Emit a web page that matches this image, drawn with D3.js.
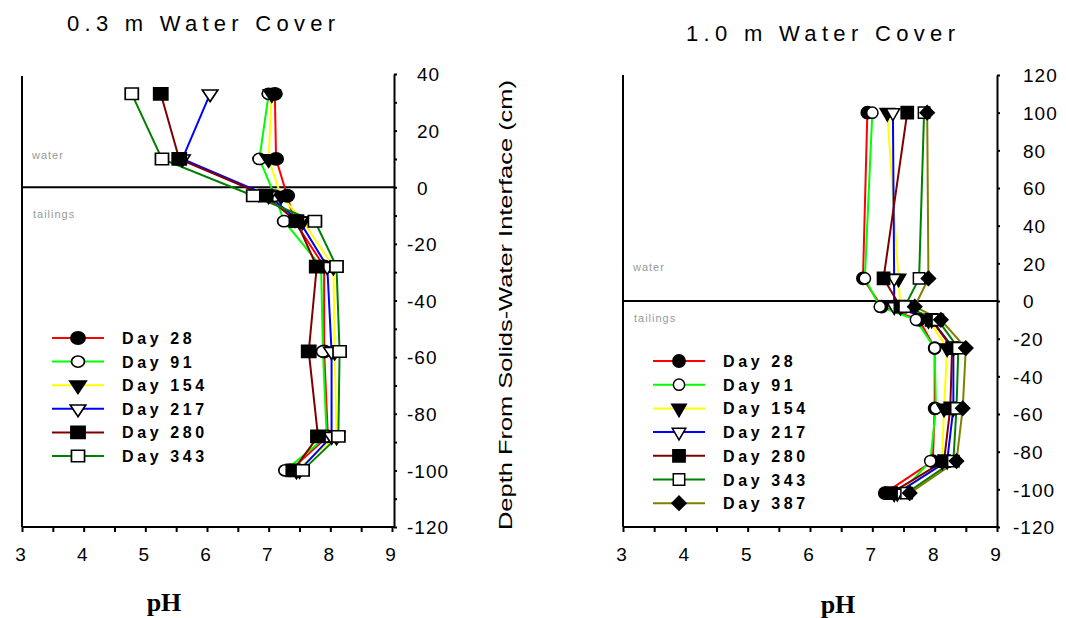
<!DOCTYPE html>
<html>
<head>
<meta charset="utf-8">
<script src="https://cdn.jsdelivr.net/npm/d3@7"></script>
<style>
  body { margin: 0; background: #fff; }
</style>
</head>
<body>
<script>
// ---------------- DATA ----------------
// Left panel: 0.3 m water cover
const depthsLeft = [33, 10, -3, -12, -28, -58, -88, -100];
const left_day28  = [7.10, 7.12, 7.30, 7.42, 7.90, 7.90, 7.96, 7.35];
const left_day91  = [7.00, 6.85, 7.10, 7.25, 7.85, 7.88, 7.94, 7.27];
const left_day154 = [7.05, 7.00, 7.20, 7.55, 8.05, 8.07, 8.10, 7.45];
const left_day217 = [6.05, 5.60, 7.00, 7.50, 7.95, 8.02, 8.02, 7.50];
const left_day280 = [5.25, 5.55, 6.95, 7.45, 7.78, 7.65, 7.80, 7.40];
const left_day343 = [4.78, 5.27, 6.75, 7.75, 8.10, 8.15, 8.13, 7.55];

// Right panel: 1.0 m water cover
const depthsRight = [100, 12, -3, -10, -25, -57, -85, -102];
const right_day28  = [6.92, 6.85, 7.15, 7.75, 8.00, 8.00, 7.97, 7.20];
const right_day91  = [7.00, 6.88, 7.12, 7.70, 8.00, 8.02, 7.93, 7.45];
const right_day154 = [7.24, 7.42, 7.45, 7.90, 8.20, 8.15, 8.12, 7.35];
const right_day217 = [7.33, 7.35, 7.35, 7.95, 8.30, 8.30, 8.20, 7.40];
const right_day280 = [7.56, 7.18, 7.45, 7.95, 8.28, 8.25, 8.15, 7.30];
const right_day343 = [7.83, 7.75, 7.52, 8.05, 8.38, 8.35, 8.30, 7.55];
const right_day387 = [7.88, 7.90, 7.68, 8.10, 8.50, 8.45, 8.35, 7.60];

const seriesNames = ["Day 28", "Day 91", "Day 154", "Day 217", "Day 280", "Day 343", "Day 387"];
const pHTicks = [3, 4, 5, 6, 7, 8, 9];
const depthTicksLeft = [40, 20, 0, -20, -40, -60, -80, -100, -120];
const depthTicksRight = [120, 100, 80, 60, 40, 20, 0, -20, -40, -60, -80, -100, -120];

// ---------------- STYLES ----------------
const SANS = "'Liberation Sans', Arial, sans-serif";
const styleOf = {
  "Day 28":  { color: "#ff0000", sym: d3.symbolCircle,   fill: "#000", rot: 0,   size: 120 },
  "Day 91":  { color: "#00ff00", sym: d3.symbolCircle,   fill: "#fff", rot: 0,   size: 100 },
  "Day 154": { color: "#ffff00", sym: d3.symbolTriangle, fill: "#000", rot: 180, size: 90 },
  "Day 217": { color: "#0000ff", sym: d3.symbolTriangle, fill: "#fff", rot: 180, size: 80 },
  "Day 280": { color: "#800000", sym: d3.symbolSquare,   fill: "#000", rot: 0,   size: 150 },
  "Day 343": { color: "#008000", sym: d3.symbolSquare,   fill: "#fff", rot: 0,   size: 130 },
  "Day 387": { color: "#808000", sym: d3.symbolSquare,   fill: "#000", rot: 45,  size: 100 }
};

const W = 1066, H = 618;
const svg = d3.select("body").append("svg")
  .attr("width", W).attr("height", H)
  .style("background", "#fff")
  .style("font-family", SANS);

function drawPanel(cfg) {
  const g = svg.append("g");
  const x = d3.scaleLinear().domain([3, 9]).range([cfg.x0, cfg.x1]);
  const y = d3.scaleLinear().domain(cfg.yDomain).range([cfg.yBot, cfg.yTop]);

  // frame: left line
  g.append("line").attr("x1", cfg.x0).attr("x2", cfg.x0)
    .attr("y1", cfg.frameTop).attr("y2", cfg.yBot)
    .attr("stroke", "#000").attr("stroke-width", 2);

  // x axis
  const xAxis = d3.axisBottom(x)
    .tickValues(d3.range(3, 9.01, 0.5))
    .tickSize(5).tickSizeOuter(0)
    .tickFormat(d => Number.isInteger(d) && pHTicks.includes(d) ? d : "");
  const xg = g.append("g").attr("transform", `translate(0,${cfg.yBot})`).call(xAxis);
  xg.select(".domain").attr("stroke-width", 2).attr("d", `M${cfg.x0},0H${cfg.x1 + 2}`);
  xg.selectAll(".tick line").attr("stroke-width", 2);
  xg.selectAll(".tick text")
    .attr("y", 21).attr("dy", "0.71em").attr("dx", -2)
    .style("font-size", "19px").style("font-family", SANS);

  // y axis on right
  const yAxis = d3.axisRight(y)
    .tickValues(cfg.yTickVals)
    .tickSize(3).tickSizeOuter(0)
    .tickFormat(d => cfg.yLabels.includes(d) ? d : "");
  const yg = g.append("g").attr("transform", `translate(${cfg.axisX},0)`).call(yAxis);
  yg.select(".domain").attr("stroke-width", 2);
  yg.selectAll(".tick line").attr("stroke-width", 2);
  yg.selectAll(".tick text")
    .attr("letter-spacing", 1)
    .attr("x", d => d < 0 ? cfg.labelOff - 10 : cfg.labelOff)
    .attr("dy", "0.36em")
    .style("font-size", "19px").style("font-family", SANS);

  // zero line
  g.append("line").attr("x1", cfg.x0).attr("x2", cfg.axisX)
    .attr("y1", y(0)).attr("y2", y(0))
    .attr("stroke", "#000").attr("stroke-width", 2);

  // water / tailings labels
  g.append("text").attr("x", cfg.x0 + 10).attr("y", y(0) - cfg.waterDy)
    .attr("font-size", 11).attr("letter-spacing", 1).attr("fill", "#9a9a9a").text("water");
  g.append("text").attr("x", cfg.x0 + 11).attr("y", y(0) + cfg.tailDy)
    .attr("font-size", 11).attr("letter-spacing", 1).attr("fill", "#9a9a9a").text("tailings");

  const line = d3.line().x(d => x(d[1])).y(d => y(d[0]));
  const sx = cfg.markerSX;

  cfg.series.forEach(s => {
    const st = styleOf[s.name];
    const pts = cfg.depths.map((dep, k) => [dep, s.values[k]]);
    g.append("path").attr("d", line(pts))
      .attr("fill", "none").attr("stroke", st.color).attr("stroke-width", 2);
  });
  cfg.series.forEach(s => {
    const st = styleOf[s.name];
    const pts = cfg.depths.map((dep, k) => [dep, s.values[k]]);
    g.selectAll(null).data(pts).enter().append("path")
      .attr("d", d3.symbol().type(st.sym).size(st.size))
      .attr("transform", d => `translate(${x(d[1])},${y(d[0])}) scale(${sx},1) rotate(${st.rot})`)
      .attr("fill", st.fill).attr("stroke", "#000").attr("stroke-width", 1.5);
  });

  // legend
  cfg.series.forEach((s, i) => {
    const st = styleOf[s.name];
    const ly = cfg.legY + i * cfg.legStep;
    g.append("line").attr("x1", cfg.legX).attr("x2", cfg.legX + 52)
      .attr("y1", ly).attr("y2", ly).attr("stroke", st.color).attr("stroke-width", 2);
    g.append("path").attr("d", d3.symbol().type(st.sym).size(st.size))
      .attr("transform", `translate(${cfg.legX + 26},${ly}) scale(${sx},1) rotate(${st.rot})`)
      .attr("fill", st.fill).attr("stroke", "#000").attr("stroke-width", 1.5);
    g.append("text").attr("x", cfg.legX + 70).attr("y", ly + 6)
      .attr("letter-spacing", 3.6)
      .style("font-size", "16px").style("font-weight", "bold")
      .text(s.name);
  });

  // title
  g.append("text").attr("x", cfg.titleX).attr("y", cfg.titleY)
    .attr("textLength", cfg.titleLen).attr("lengthAdjust", "spacing")
    .style("font-size", "22px")
    .text(cfg.title);

  // x label
  g.append("text").attr("x", cfg.pHX).attr("y", cfg.pHY).attr("text-anchor", "middle")
    .style("font-family", "'Liberation Serif', 'Times New Roman', serif")
    .style("font-weight", "bold").style("font-size", "26px").text("pH");
}

drawPanel({
  x0: 22, x1: 392, axisX: 394, yTop: 74, yBot: 527, frameTop: 76,
  yDomain: [-120, 40],
  yTickVals: d3.range(-120, 40.1, 10), yLabels: depthTicksLeft, labelOff: 23,
  depths: depthsLeft,
  series: [
    { name: "Day 28", values: left_day28 },
    { name: "Day 91", values: left_day91 },
    { name: "Day 154", values: left_day154 },
    { name: "Day 217", values: left_day217 },
    { name: "Day 280", values: left_day280 },
    { name: "Day 343", values: left_day343 }
  ],
  markerSX: 1.15,
  waterDy: 28, tailDy: 31,
  legX: 52, legY: 338, legStep: 23.6,
  title: "0.3 m Water Cover", titleX: 67, titleY: 31, titleLen: 268,
  pHX: 164, pHY: 611
});

drawPanel({
  x0: 623, x1: 997, axisX: 997, yTop: 75, yBot: 527, frameTop: 75,
  yDomain: [-120, 120],
  yTickVals: depthTicksRight, yLabels: depthTicksRight, labelOff: 26,
  depths: depthsRight,
  series: [
    { name: "Day 28", values: right_day28 },
    { name: "Day 91", values: right_day91 },
    { name: "Day 154", values: right_day154 },
    { name: "Day 217", values: right_day217 },
    { name: "Day 280", values: right_day280 },
    { name: "Day 343", values: right_day343 },
    { name: "Day 387", values: right_day387 }
  ],
  markerSX: 1,
  waterDy: 30, tailDy: 21,
  legX: 653, legY: 361, legStep: 23.7,
  title: "1.0 m Water Cover", titleX: 686, titleY: 41, titleLen: 269,
  pHX: 838, pHY: 613
});

// shared y-axis title
svg.append("text")
  .attr("transform", "translate(512,305) rotate(-90)")
  .attr("text-anchor", "middle")
  .attr("textLength", 450).attr("lengthAdjust", "spacingAndGlyphs")
  .style("font-size", "19px")
  .text("Depth From Solids-Water Interface (cm)");
</script>
</body>
</html>
